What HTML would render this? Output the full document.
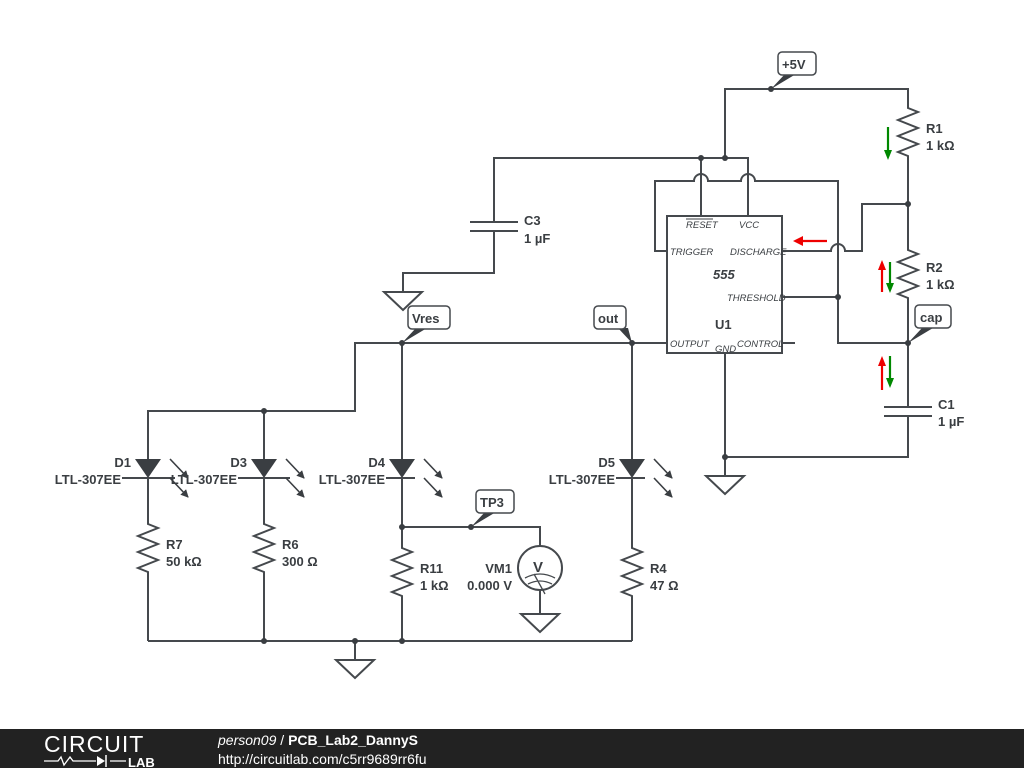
<!DOCTYPE html>
<html><head><meta charset="utf-8"><style>
body{margin:0;background:#fff;width:1024px;height:768px;overflow:hidden}
svg{display:block}
text{font-family:"Liberation Sans",sans-serif;fill:#3a3e42}
</style></head><body>
<svg width="1024" height="768" viewBox="0 0 1024 768" xmlns="http://www.w3.org/2000/svg">
<defs>
<marker id="ah" markerWidth="8" markerHeight="8" refX="7" refY="4" orient="auto" markerUnits="userSpaceOnUse"><path d="M0,0 L8,4 L0,8 z" fill="#3a3e42"/></marker>
</defs>
<g stroke="#45494d" stroke-width="2" fill="none">
<path d="M725,158 V89 H908 V108 l10,4 l-20,8 l20,8 l-20,8 l20,8 l-20,8 l10,4 V250 l10,4 l-20,8 l20,8 l-20,8 l20,8 l-20,8 l10,4 V407"/>
<path d="M884,407 H932 M884,416 H932"/>
<path d="M908,416 V457 H725 V353"/>
<path d="M725,457 V476"/><path d="M706,476 H744 L725,494 Z"/>
<rect x="667" y="216" width="115" height="137"/>
<path d="M494,222 V158 H748 V216 M701,158 V216"/>
<path d="M667,251 H655 V181 H694 a7,7 0 0 1 14,0 H741 a7,7 0 0 1 14,0 H838 V343 H908"/>
<path d="M782,297 H838"/>
<path d="M782,251 H831 a7,7 0 0 1 14,0 H862 V204 H908"/>
<path d="M782,343 H795"/>
<path d="M470,222 H518 M470,231 H518"/>
<path d="M494,231 V273 H403 V292"/><path d="M384,292 H422 L403,310 Z"/>
<path d="M667,343 H355 V411 H148 V459"/>
<path d="M264,411 V459 M402,343 V459 M632,343 V459"/>
<path d="M148,478 V524 l10,4 l-20,8 l20,8 l-20,8 l20,8 l-20,8 l10,4 V641"/>
<path d="M264,478 V524 l10,4 l-20,8 l20,8 l-20,8 l20,8 l-20,8 l10,4 V641"/>
<path d="M402,478 V548 l10,4 l-20,8 l20,8 l-20,8 l20,8 l-20,8 l10,4 V641"/>
<path d="M632,478 V548 l10,4 l-20,8 l20,8 l-20,8 l20,8 l-20,8 l10,4 V641"/>
<path d="M148,641 H632"/>
<path d="M355,641 V660"/><path d="M336,660 H374 L355,678 Z"/>
<path d="M402,527 H540 V546 M540,590 V614"/>
<path d="M521,614 H559 L540,632 Z"/>
<circle cx="540" cy="568" r="22"/>
<path d="M122,478 H175 M238,478 H290 M386,478 H415 M616,478 H645"/>
</g>
<g stroke="#45494d" stroke-width="1.3" fill="none">
<path d="M525,578 q15,-8 30,0 M528,584 q12,-6 24,0 M534,574 L545,594"/>
</g>
<text x="533" y="572" font-size="15" font-weight="bold" fill="#3a3e42">V</text>
<g fill="#3a3e42">
<path d="M135,459 H161 L148,478 Z"/><path d="M251,459 H277 L264,478 Z"/>
<path d="M389,459 H415 L402,478 Z"/><path d="M619,459 H645 L632,478 Z"/>
</g>
<g stroke="#3a3e42" stroke-width="1.6" marker-end="url(#ah)">
<path d="M170,459 L188,478"/><path d="M170,478 L188,497"/>
<path d="M286,459 L304,478"/><path d="M286,478 L304,497"/>
<path d="M424,459 L442,478"/><path d="M424,478 L442,497"/>
<path d="M654,459 L672,478"/><path d="M654,478 L672,497"/>
</g>
<g fill="#3a3e42">
<circle cx="771" cy="89" r="3"/><circle cx="908" cy="204" r="3"/><circle cx="908" cy="343" r="3"/>
<circle cx="701" cy="158" r="3"/><circle cx="725" cy="158" r="3"/><circle cx="838" cy="297" r="3"/>
<circle cx="725" cy="457" r="3"/><circle cx="402" cy="343" r="3"/><circle cx="632" cy="343" r="3"/>
<circle cx="264" cy="411" r="3"/><circle cx="264" cy="641" r="3"/><circle cx="355" cy="641" r="3"/>
<circle cx="402" cy="641" r="3"/><circle cx="402" cy="527" r="3"/><circle cx="471" cy="527" r="3"/>
</g>
<g fill="#3a3e42">
<path d="M771,89 L785,74 H796 Z"/><path d="M908,343 L922,328 H933 Z"/>
<path d="M402,343 L416,328 H427 Z"/><path d="M632,343 L618,328 H628 Z"/><path d="M471,527 L485,512 H496 Z"/>
</g>
<g fill="#fff" stroke="#45494d" stroke-width="1.5">
<rect x="778" y="52" width="38" height="23" rx="4"/>
<rect x="915" y="305" width="36" height="23" rx="4"/>
<rect x="408" y="306" width="42" height="23" rx="4"/>
<rect x="594" y="306" width="32" height="23" rx="4"/>
<rect x="476" y="490" width="38" height="23" rx="4"/>
</g>
<g font-size="13" font-weight="bold">
<text x="782" y="69">+5V</text><text x="920" y="322">cap</text>
<text x="412" y="323">Vres</text><text x="598" y="323">out</text><text x="480" y="507">TP3</text>
<text x="926" y="133">R1</text><text x="926" y="150">1 kΩ</text>
<text x="926" y="272">R2</text><text x="926" y="289">1 kΩ</text>
<text x="938" y="409">C1</text><text x="938" y="426">1 µF</text>
<text x="524" y="225">C3</text><text x="524" y="243">1 µF</text>
<text x="131" y="467" text-anchor="end">D1</text><text x="121" y="484" text-anchor="end">LTL-307EE</text>
<text x="247" y="467" text-anchor="end">D3</text><text x="237" y="484" text-anchor="end">LTL-307EE</text>
<text x="385" y="467" text-anchor="end">D4</text><text x="385" y="484" text-anchor="end">LTL-307EE</text>
<text x="615" y="467" text-anchor="end">D5</text><text x="615" y="484" text-anchor="end">LTL-307EE</text>
<text x="166" y="549">R7</text><text x="166" y="566">50 kΩ</text>
<text x="282" y="549">R6</text><text x="282" y="566">300 Ω</text>
<text x="420" y="573">R11</text><text x="420" y="590">1 kΩ</text>
<text x="512" y="573" text-anchor="end">VM1</text><text x="512" y="590" text-anchor="end">0.000 V</text>
<text x="650" y="573">R4</text><text x="650" y="590">47 Ω</text>
<text x="715" y="329">U1</text>
</g>
<g font-size="9.5" font-style="italic">
<text x="686" y="228">RESET</text><text x="739" y="228">VCC</text>
<text x="670" y="255">TRIGGER</text><text x="730" y="255">DISCHARGE</text>
<text x="727" y="301">THRESHOLD</text><text x="670" y="347">OUTPUT</text>
<text x="715" y="352">GND</text><text x="737" y="347">CONTROL</text>
</g>
<path d="M686,219 H713" stroke="#3a3e42" stroke-width="1"/>
<text x="713" y="279" font-size="13" font-weight="bold" font-style="italic">555</text>
<g stroke-width="2.2">
<path d="M827,241 H800" stroke="#e00"/><path d="M793,241 L803,236 V246 Z" fill="#e00" stroke="none"/>
<path d="M888,127 V152" stroke="#080"/><path d="M884,150 H892 L888,160 Z" fill="#080"/>
<path d="M882,292 V268" stroke="#e00"/><path d="M878,270 H886 L882,260 Z" fill="#e00"/>
<path d="M890,262 V285" stroke="#080"/><path d="M886,283 H894 L890,293 Z" fill="#080"/>
<path d="M882,390 V364" stroke="#e00"/><path d="M878,366 H886 L882,356 Z" fill="#e00"/>
<path d="M890,356 V380" stroke="#080"/><path d="M886,378 H894 L890,388 Z" fill="#080"/>
</g>
<rect x="0" y="729" width="1024" height="39" fill="#222"/>
<text x="44" y="752" font-size="23" fill="#fff" style="fill:#fff;letter-spacing:1px">CIRCUIT</text>
<text x="128" y="767" font-size="13" font-weight="bold" style="fill:#fff">LAB</text>
<path d="M44,761 H58 l3,-4 l3,8 l3,-4 l3,-4 l3,4 H96 M110,761 H126" stroke="#fff" stroke-width="1.3" fill="none"/>
<path d="M97,756 L105,761 L97,766 Z" fill="#fff"/><path d="M106,755 V767" stroke="#fff" stroke-width="1.5"/>
<text x="218" y="745" font-size="14" style="fill:#fff"><tspan font-style="italic">person09</tspan> / <tspan font-weight="bold">PCB_Lab2_DannyS</tspan></text>
<text x="218" y="764" font-size="14" style="fill:#fff">http://circuitlab.com/c5rr9689rr6fu</text>
</svg>
</body></html>
